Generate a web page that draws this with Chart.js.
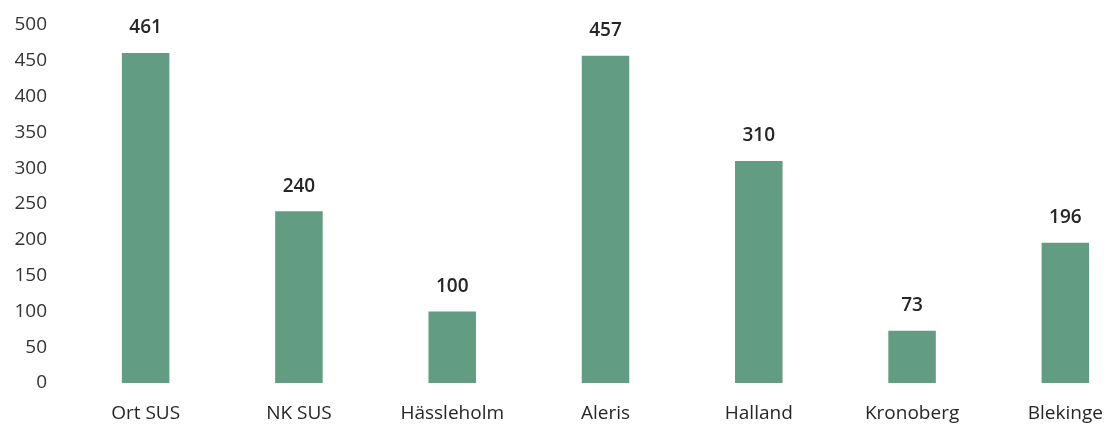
<!DOCTYPE html>
<html>
<head>
<meta charset="utf-8">
<script src="https://cdn.jsdelivr.net/npm/chart.js@4/dist/chart.umd.min.js"></script>
<style>
  html, body { margin: 0; padding: 0; background: #ffffff; overflow: hidden; }
  #wrap { width: 1142px; height: 426px; position: relative; }
</style>
</head>
<body>
<div id="wrap"><canvas id="c" width="1142" height="426"></canvas></div>
<script>
const categories = ["Ort SUS", "NK SUS", "Hässleholm", "Aleris", "Halland", "Kronoberg", "Blekinge"];
const values = [461, 240, 100, 457, 310, 73, 196];
const yTicks = [0, 50, 100, 150, 200, 250, 300, 350, 400, 450, 500];

const FONT = '"Open Sans", "Liberation Sans", sans-serif';

const valueLabels = {
  id: 'valueLabels',
  afterDatasetsDraw(chart) {
    const ctx = chart.ctx;
    const meta = chart.getDatasetMeta(0);
    ctx.save();
    ctx.font = '600 19px ' + FONT;
    ctx.fillStyle = '#262626';
    ctx.textAlign = 'center';
    ctx.textBaseline = 'middle';
    meta.data.forEach((bar, i) => {
      ctx.fillText(String(values[i]), bar.x, bar.y - 25);
    });
    ctx.restore();
  }
};

new Chart(document.getElementById('c'), {
  type: 'bar',
  data: {
    labels: categories,
    datasets: [{
      data: values,
      backgroundColor: '#629c83',
      borderWidth: 0,
      categoryPercentage: 1.0,
      barPercentage: 0.31
    }]
  },
  options: {
    responsive: false,
    animation: false,
    layout: { padding: { top: 25, right: 0, left: 0, bottom: 0 } },
    plugins: { legend: { display: false }, tooltip: { enabled: false } },
    scales: {
      x: {
        grid: { display: false, drawTicks: false },
        border: { display: false },
        ticks: {
          color: '#262626',
          padding: 19,
          maxRotation: 0,
          autoSkip: false,
          font: { size: 19, family: FONT }
        },
        afterFit(scale) { scale.height = 43; scale.paddingLeft = 0; scale.paddingRight = 0; }
      },
      y: {
        min: 0,
        max: 500,
        afterBuildTicks(scale) { scale.ticks = yTicks.map(v => ({ value: v })); },
        grid: { display: false, drawTicks: false },
        border: { display: false },
        ticks: {
          color: '#333333',
          padding: 22,
          font: { size: 19, family: FONT }
        },
        afterFit(scale) { scale.width = 69; scale.paddingTop = 0; scale.paddingBottom = 0; }
      }
    }
  },
  plugins: [valueLabels]
});
</script>
</body>
</html>
